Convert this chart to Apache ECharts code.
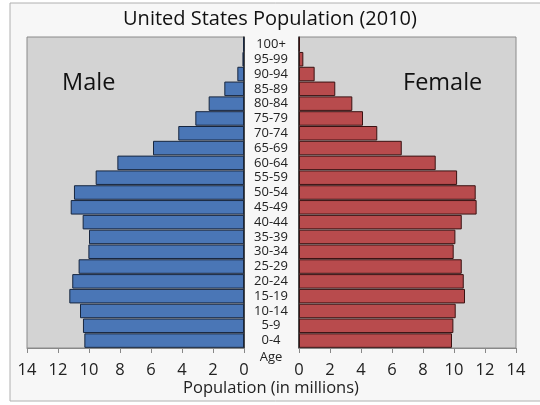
<!DOCTYPE html>
<html>
<head>
<meta charset="utf-8">
<script src="https://cdn.jsdelivr.net/npm/echarts@6/dist/echarts.min.js"></script>
<style>
  html, body { margin: 0; padding: 0; background: #fff; }
  #main { width: 540px; height: 405px; }
</style>
</head>
<body>
<div id="main"></div>
<script>
// age groups, bottom to top
const ageGroups = ['0-4', '5-9', '10-14', '15-19', '20-24', '25-29', '30-34', '35-39', '40-44', '45-49',
  '50-54', '55-59', '60-64', '65-69', '70-74', '75-79', '80-84', '85-89', '90-94', '95-99', '100+'];
// millions
const male = [10.3, 10.39, 10.58, 11.27, 11.08, 10.67, 10.04, 10.0, 10.41, 11.18,
  10.97, 9.57, 8.17, 5.87, 4.24, 3.14, 2.28, 1.27, 0.43, 0.1, 0.04];
const female = [9.87, 9.96, 10.11, 10.71, 10.63, 10.5, 9.98, 10.09, 10.5, 11.46,
  11.4, 10.2, 8.82, 6.63, 5.05, 4.13, 3.44, 2.34, 1.01, 0.28, 0.05];
const xTicks = [0, 2, 4, 6, 8, 10, 12, 14];

const font = 'Open Sans';
const chart = echarts.init(document.getElementById('main'));

const valueAxis = (gridIndex, inverse) => ({
  type: 'value',
  gridIndex: gridIndex,
  inverse: inverse,
  min: xTicks[0],
  max: xTicks[xTicks.length - 1],
  interval: 2,
  splitLine: { show: false },
  axisLine: { show: true, lineStyle: { color: '#888', width: 1 } },
  axisTick: { show: true, length: 5, lineStyle: { color: '#888' } },
  axisLabel: { color: '#222', fontSize: 16.5, fontFamily: font, margin: 14 }
});

const catAxis = (gridIndex, showLabels) => ({
  type: 'category',
  gridIndex: gridIndex,
  data: ageGroups,
  position: 'left',
  axisLine: { show: true, onZero: false, lineStyle: { color: '#222', width: 1.5 } },
  axisTick: { show: false },
  axisLabel: {
    show: showLabels,
    interval: 0,
    color: '#222',
    fontSize: 13,
    fontFamily: font,
    align: 'center',
    margin: 28
  }
});

const option = {
  backgroundColor: '#fff',
  title: {
    text: 'United States Population (2010)',
    left: 'center',
    top: 4,
    textStyle: { fontSize: 20, fontWeight: 'normal', color: '#111', fontFamily: font }
  },
  graphic: [
    {
      type: 'rect', z: -10, silent: true,
      shape: { x: 10, y: 3, width: 540, height: 398 },
      style: { fill: '#f7f7f7', stroke: '#b0b0b0', lineWidth: 1 }
    },
    {
      type: 'text', left: 62, top: 71,
      style: { text: 'Male', fontSize: 23.5, fontFamily: font, fill: '#111' }
    },
    {
      type: 'text', left: 403, top: 71,
      style: { text: 'Female', fontSize: 23.5, fontFamily: font, fill: '#111' }
    },
    {
      type: 'text', x: 271, y: 351,
      style: { text: 'Age', fontSize: 13, fontFamily: font, fill: '#222', align: 'center' }
    },
    {
      type: 'text', x: 271, y: 380,
      style: { text: 'Population (in millions)', fontSize: 16.5, fontFamily: font, fill: '#222', align: 'center' }
    }
  ],
  grid: [
    { left: 27, top: 37, width: 217, height: 311, show: true, backgroundColor: '#d3d3d3', borderColor: '#8a8a8a', borderWidth: 1 },
    { left: 299, top: 37, width: 217, height: 311, show: true, backgroundColor: '#d3d3d3', borderColor: '#8a8a8a', borderWidth: 1 }
  ],
  xAxis: [valueAxis(0, true), valueAxis(1, false)],
  yAxis: [
    Object.assign(catAxis(0, false), { position: 'right' }),
    catAxis(1, true)
  ],
  series: [
    {
      name: 'Male',
      type: 'bar',
      xAxisIndex: 0,
      yAxisIndex: 0,
      data: male,
      barCategoryGap: '2%',
      itemStyle: { color: '#4a76b6', borderColor: '#17263f', borderWidth: 1 }
    },
    {
      name: 'Female',
      type: 'bar',
      xAxisIndex: 1,
      yAxisIndex: 1,
      data: female,
      barCategoryGap: '2%',
      itemStyle: { color: '#b84b4d', borderColor: '#3a1212', borderWidth: 1 }
    }
  ]
};

chart.setOption(option);
</script>
</body>
</html>
